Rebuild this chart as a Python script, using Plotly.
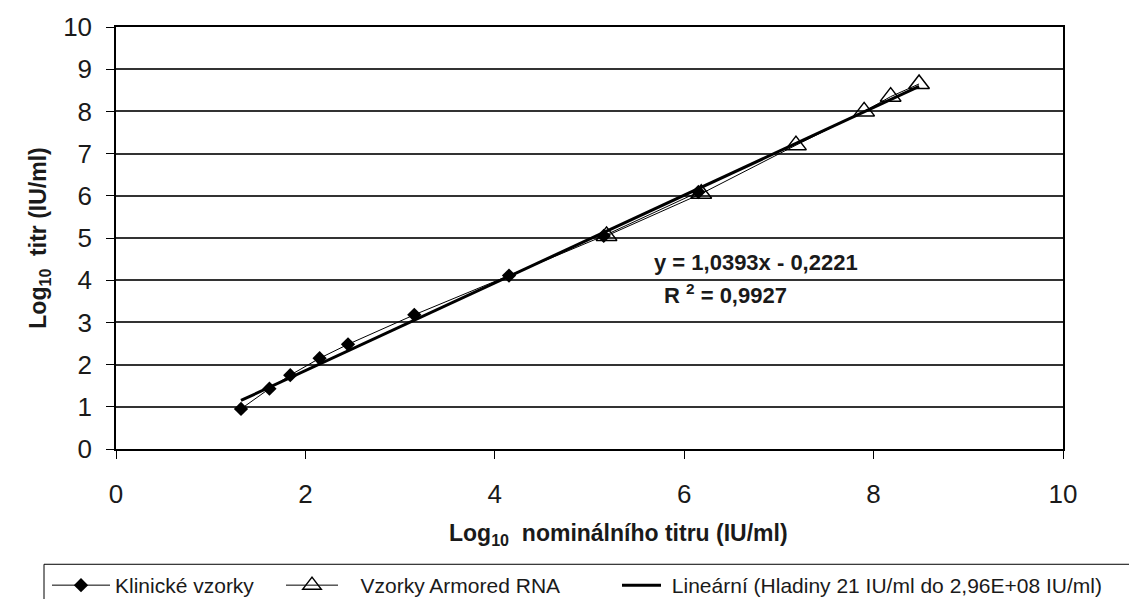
import plotly.graph_objects as go

# Klinické vzorky (log10 nominal vs log10 measured)
klin_x = [1.32, 1.62, 1.84, 2.15, 2.45, 3.15, 4.15, 5.15, 6.15]
klin_y = [0.95, 1.43, 1.75, 2.15, 2.48, 3.18, 4.11, 5.05, 6.09]

# Vzorky Armored RNA
arm_x = [5.18, 6.18, 7.18, 7.90, 8.18, 8.48]
arm_y = [5.05, 6.05, 7.20, 8.00, 8.35, 8.65]

# Linear trend (Hladiny 21 IU/ml do 2,96E+08 IU/ml)
slope = 1.0393
intercept = -0.2221
r2 = 0.9927
trend_x = [1.32, 8.48]
trend_y = [slope * v + intercept for v in trend_x]

x_ticks = [0, 2, 4, 6, 8, 10]
y_ticks = list(range(0, 11))

FONT = "Liberation Sans, Arial, sans-serif"
INK = "#1a1a1a"
NB = "\u00a0"
W, H = 1129, 599
L, R, T, B = 116, 66, 17, 150
PW, PH = W - L - R, H - T - B


def cz(v):
    return str(v).replace(".", ",")


fig = go.Figure()
fig.add_trace(go.Scatter(
    x=klin_x, y=klin_y, mode="lines+markers", name="Klinické vzorky",
    line=dict(color="black", width=1),
    marker=dict(symbol="diamond", size=11, color="black"),
    legend="legend",
))
fig.add_trace(go.Scatter(
    x=arm_x, y=arm_y, mode="lines+markers", name=NB * 3 + "Vzorky Armored RNA",
    line=dict(color="black", width=1),
    marker=dict(symbol="triangle-up-open", size=18, color="black",
                line=dict(color="black", width=1.5)),
    legend="legend2",
))
fig.add_trace(go.Scatter(
    x=trend_x, y=trend_y, mode="lines",
    name=NB + "Lineární (Hladiny 21 IU/ml do 2,96E+08 IU/ml)",
    line=dict(color="black", width=3),
    legend="legend3",
))

# regression equation and R²
fig.add_annotation(
    x=5.66, y=4.42, xref="x", yref="y", showarrow=False,
    xanchor="left", yanchor="middle",
    text=f"<b>y = {cz(slope)}x - {cz(-intercept)}</b>",
    font=dict(family=FONT, size=22, color=INK),
)
fig.add_annotation(
    x=5.77, y=3.68, xref="x", yref="y", showarrow=False,
    xanchor="left", yanchor="middle",
    text=f"<b>R <sup>2</sup> = {cz(r2)}</b>",
    font=dict(family=FONT, size=22, color=INK),
)

# x-axis title, set slightly right of the plot centre
fig.add_annotation(
    x=(618 - L) / PW, y=(H - B - 537) / PH, xref="paper", yref="paper",
    showarrow=False, xanchor="center", yanchor="middle",
    text=f"<b>Log<sub>10</sub>{NB}{NB}nominálního titru (IU/ml)</b>",
    font=dict(family=FONT, size=23, color=INK),
)

# frame around the legend row (runs off the right and bottom edges)
fig.add_shape(
    type="rect", xref="paper", yref="paper",
    x0=(44 - L) / PW, x1=(W + 10 - L) / PW,
    y0=(H - B - (H + 10)) / PH, y1=(H - B - 567) / PH,
    line=dict(color="black", width=1), fillcolor="rgba(0,0,0,0)",
)


def legend_box(px, itemwidth):
    return dict(
        orientation="h", xref="container", yref="container",
        x=px / W, y=(H - 565) / H, xanchor="left", yanchor="top",
        bgcolor="rgba(0,0,0,0)", borderwidth=0,
        font=dict(family=FONT, size=21, color=INK),
        itemwidth=itemwidth,
    )


fig.update_layout(
    width=W, height=H,
    margin=dict(l=L, r=R, t=T, b=B),
    paper_bgcolor="white", plot_bgcolor="white",
    font=dict(family=FONT, color=INK),
    showlegend=True,
    legend=legend_box(47, 58),
    legend2=legend_box(281, 52),
    legend3=legend_box(617, 39),
)
fig.update_xaxes(
    range=[0, 10], tickvals=x_ticks, ticks="outside", ticklen=8,
    tickcolor="black", showline=True, linecolor="black", linewidth=1.5,
    mirror=True, showgrid=False, zeroline=False, ticklabelstandoff=13,
    tickfont=dict(family=FONT, size=26, color=INK),
)
fig.update_yaxes(
    range=[0, 10], tickvals=y_ticks, ticks="outside", ticklen=8,
    tickcolor="black", showline=True, linecolor="black", linewidth=1.5,
    mirror=True, showgrid=True, gridcolor="#333333", gridwidth=1.5,
    zeroline=False, ticklabelstandoff=9,
    tickfont=dict(family=FONT, size=26, color=INK),
    title=dict(text=f"<b>Log<sub>10</sub>{NB}{NB}titr (IU/ml)</b>",
               font=dict(family=FONT, size=23), standoff=10),
)

fig.write_html("out.html")
